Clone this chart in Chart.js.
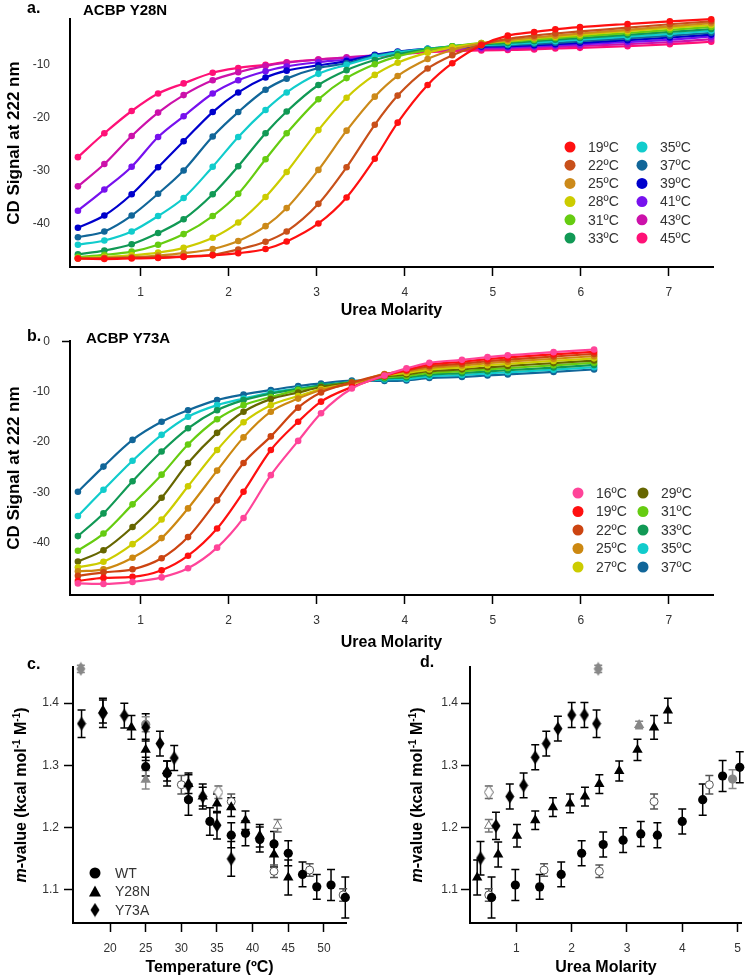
<!DOCTYPE html>
<html>
<head>
<meta charset="utf-8">
<script src="https://cdn.jsdelivr.net/npm/chart.js@4.4.1/dist/chart.umd.min.js"></script>
<style>
  body { margin: 0; background: #fff; width: 750px; height: 980px; position: relative; overflow: hidden; }
  canvas { position: absolute; }
</style>
</head>
<body>
<canvas id="chart-a" width="750" height="322" style="left:0;top:0"></canvas>
<canvas id="chart-b" width="750" height="330" style="left:0;top:322px"></canvas>
<canvas id="chart-c" width="375" height="328" style="left:0;top:652px"></canvas>
<canvas id="chart-d" width="375" height="328" style="left:375px;top:652px"></canvas>
<script>
const FONT = "'Liberation Sans', Arial, sans-serif";

// ---- a. ACBP Y28N : CD signal vs urea, one curve per temperature
const ureaA = [0.29, 0.59, 0.90, 1.20, 1.49, 1.82, 2.11, 2.42, 2.66, 3.02, 3.34, 3.66, 3.92, 4.26, 4.54, 4.87, 5.17, 5.47, 5.71, 5.99, 6.53, 7.01, 7.48];
const tempsA = ['19ºC', '22ºC', '25ºC', '28ºC', '31ºC', '33ºC', '35ºC', '37ºC', '39ºC', '41ºC', '43ºC', '45ºC'];
const colorsA = ['#ff1010', '#c8501a', '#cc8a1a', '#cccc00', '#66cc11', '#119955', '#11cccc', '#116699', '#0000cc', '#7711ee', '#cc11aa', '#ff1177'];
const cdA19 = [-46.6, -46.7, -46.6, -46.5, -46.3, -46.0, -45.6, -44.8, -43.4, -40.0, -35.1, -27.8, -21.0, -13.9, -9.8, -6.4, -4.6, -3.9, -3.4, -3.0, -2.4, -1.9, -1.5];
const cdA22 = [-46.6, -46.5, -46.45, -46.35, -46.2, -45.9, -44.9, -43.45, -41.5, -36.3, -29.4, -21.4, -15.9, -10.8, -8.3, -6.3, -5.2, -4.6, -4.2, -3.8, -3.1, -2.45, -1.9];
const cdA25 = [-46.6, -46.5, -46.35, -46.05, -45.6, -44.8, -43.3, -40.5, -37.1, -29.9, -22.5, -16.1, -12.2, -9.0, -7.3, -6.1, -5.45, -4.95, -4.6, -4.2, -3.5, -2.85, -2.25];
const cdA28 = [-46.5, -46.3, -46.0, -45.5, -44.6, -42.7, -39.8, -35.0, -30.3, -22.4, -16.3, -12.0, -9.7, -7.8, -6.8, -6.0, -5.6, -5.1, -4.8, -4.45, -3.75, -3.15, -2.6];
const cdA31 = [-46.3, -45.9, -45.3, -44.0, -42.0, -38.6, -34.4, -27.9, -23.0, -16.6, -12.6, -10.0, -8.5, -7.3, -6.6, -6.0, -5.75, -5.35, -5.05, -4.75, -4.1, -3.5, -2.95];
const cdA33 = [-45.8, -45.1, -43.9, -41.8, -39.2, -34.5, -29.2, -23.0, -18.9, -13.9, -11.1, -9.2, -8.1, -7.2, -6.6, -6.2, -6.0, -5.65, -5.35, -5.05, -4.45, -3.9, -3.35];
const cdA35 = [-44.0, -43.2, -41.5, -38.6, -35.2, -29.3, -23.7, -18.6, -15.3, -11.8, -10.1, -8.6, -7.8, -7.1, -6.6, -6.35, -6.2, -5.9, -5.65, -5.35, -4.8, -4.25, -3.7];
const cdA37 = [-42.6, -41.5, -38.5, -34.4, -30.0, -23.6, -19.0, -14.8, -12.7, -10.7, -9.8, -8.4, -7.7, -7.1, -6.65, -6.5, -6.4, -6.15, -5.95, -5.65, -5.1, -4.6, -4.05];
const cdA39 = [-40.8, -38.5, -34.5, -29.4, -24.5, -19.0, -15.3, -12.5, -11.2, -10.2, -9.4, -8.2, -7.6, -7.1, -6.75, -6.65, -6.6, -6.4, -6.2, -5.95, -5.45, -4.95, -4.4];
const cdA41 = [-37.6, -33.6, -29.3, -23.7, -19.8, -15.5, -13.0, -11.3, -10.4, -9.6, -9.1, -8.3, -7.8, -7.3, -6.95, -6.85, -6.8, -6.6, -6.45, -6.25, -5.8, -5.35, -4.75];
const cdA43 = [-33.0, -28.8, -23.5, -19.1, -15.8, -13.0, -11.5, -10.3, -9.7, -9.1, -8.7, -8.3, -7.9, -7.5, -7.2, -7.1, -7.05, -6.85, -6.7, -6.55, -6.2, -5.8, -5.25];
const cdA45 = [-27.5, -23.0, -18.8, -15.5, -13.6, -11.6, -10.7, -10.1, -9.6, -9.1, -8.8, -8.5, -8.1, -7.7, -7.5, -7.4, -7.3, -7.2, -7.0, -6.9, -6.6, -6.2, -5.75];
const ticksA_x = [1, 2, 3, 4, 5, 6, 7];
const ticksA_y = [-40, -30, -20, -10];

// ---- b. ACBP Y73A
const ureaB = [0.29, 0.58, 0.91, 1.24, 1.54, 1.87, 2.17, 2.48, 2.79, 3.05, 3.40, 3.77, 4.02, 4.28, 4.65, 4.94, 5.17, 5.69, 6.15];
const tempsB = ['16ºC', '19ºC', '22ºC', '25ºC', '27ºC', '29ºC', '31ºC', '33ºC', '35ºC', '37ºC'];
const colorsB = ['#ff4499', '#ff1010', '#cc4411', '#cc8811', '#cccc00', '#666600', '#66cc11', '#119955', '#11cccc', '#116699'];
const cdB16 = [-48.1, -48.2, -47.8, -46.9, -45.1, -41.0, -35.1, -26.6, -19.8, -14.3, -9.4, -6.8, -5.4, -4.3, -3.7, -3.16, -2.8, -2.17, -1.65];
const cdB19 = [-47.6, -47.0, -46.8, -45.5, -42.6, -37.2, -29.9, -21.6, -16.0, -12.0, -9.1, -6.9, -5.7, -4.63, -4.08, -3.56, -3.22, -2.61, -2.09];
const cdB22 = [-46.6, -45.9, -45.3, -43.1, -38.9, -31.6, -24.2, -18.9, -13.2, -10.2, -8.2, -6.6, -5.8, -4.97, -4.46, -3.97, -3.64, -3.04, -2.53];
const cdB25 = [-45.7, -45.3, -43.0, -39.1, -33.2, -25.7, -19.1, -14.0, -11.4, -9.7, -8.4, -6.5, -6.0, -5.3, -4.83, -4.37, -4.07, -3.48, -2.97];
const cdB27 = [-44.9, -43.8, -40.3, -35.4, -28.8, -21.6, -16.1, -12.7, -10.9, -9.5, -8.4, -6.8, -6.3, -5.63, -5.21, -4.78, -4.49, -3.92, -3.41];
const cdB29 = [-43.75, -41.5, -36.9, -31.1, -24.2, -18.2, -14.0, -11.5, -10.2, -9.1, -8.2, -7.0, -6.6, -5.97, -5.59, -5.18, -4.91, -4.35, -3.84];
const cdB31 = [-41.6, -38.2, -32.4, -26.5, -20.5, -15.5, -12.7, -11.1, -9.7, -9.1, -8.1, -7.2, -6.9, -6.3, -5.97, -5.58, -5.33, -4.79, -4.28];
const cdB33 = [-38.7, -34.2, -27.8, -21.9, -17.3, -13.7, -11.7, -10.4, -9.5, -8.75, -8.1, -7.4, -7.2, -6.63, -6.34, -5.99, -5.75, -5.23, -4.72];
const cdB35 = [-34.7, -29.5, -23.75, -18.6, -15.0, -12.7, -11.4, -10.2, -9.4, -8.75, -8.1, -7.6, -7.5, -6.97, -6.72, -6.39, -6.18, -5.66, -5.16];
const cdB37 = [-29.9, -24.9, -19.6, -16.0, -13.7, -11.7, -10.6, -9.7, -8.9, -8.4, -7.8, -7.9, -7.8, -7.3, -7.1, -6.8, -6.6, -6.1, -5.6];
const ticksB_y = [-40, -30, -20, -10, 0];

// ---- c. m-value vs temperature
const mutants = ['WT', 'Y28N', 'Y73A'];
const tempWT = [25, 28, 31, 34, 37, 39, 41, 43, 45, 47, 49, 51, 53];
const mTempWT = [1.298, 1.287, 1.245, 1.210, 1.188, 1.191, 1.181, 1.174, 1.159, 1.125, 1.105, 1.108, 1.088];
const errTempWT = [0.015, 0.02, 0.025, 0.022, 0.02, 0.02, 0.02, 0.02, 0.02, 0.02, 0.02, 0.025, 0.033];
const tempY28N = [19, 23, 25, 28, 31, 33, 35, 37, 39, 41, 43, 45];
const mTempY28N = [1.388, 1.361, 1.325, 1.291, 1.270, 1.250, 1.239, 1.233, 1.212, 1.187, 1.157, 1.120];
const errTempY28N = [0.02, 0.019, 0.017, 0.016, 0.015, 0.015, 0.015, 0.015, 0.015, 0.018, 0.02, 0.028];
const tempY73A = [16, 19, 22, 25, 27, 29, 31, 33, 35, 37];
const mTempY73A = [1.367, 1.383, 1.380, 1.361, 1.335, 1.312, 1.268, 1.250, 1.204, 1.150];
const errTempY73A = [0.022, 0.022, 0.02, 0.022, 0.02, 0.02, 0.02, 0.02, 0.022, 0.028];
const tempOpen = [30, 37, 43, 48, 52.7];
const mTempOpen = [1.269, 1.242, 1.130, 1.132, 1.092];
const errTempOpen = [0.015, 0.012, 0.01, 0.01, 0.01];
const tempOpenTri = [43.5], mTempOpenTri = [1.203], errTempOpenTri = [0.01];
const tempOpenDia = [35.2], mTempOpenDia = [1.257], errTempOpenDia = [0.01];
const tempGrayDia = [15.9], mTempGrayDia = [1.455], errTempGrayDia = [0.006];
const tempGrayCirc = [25], mTempGrayCirc = [1.366], errTempGrayCirc = [0.012];
const tempGrayTri = [25], mTempGrayTri = [1.277], errTempGrayTri = [0.015];
const ticksC_x = [20, 25, 30, 35, 40, 45, 50];
const ticksM_y = [1.1, 1.2, 1.3, 1.4];

// ---- d. m-value vs urea midpoint
const ureaWT = [0.55, 0.98, 1.42, 1.81, 2.18, 2.57, 2.93, 3.25, 3.55, 4.00, 4.37, 4.73, 5.04];
const mUreaWT = [1.088, 1.108, 1.105, 1.125, 1.159, 1.173, 1.180, 1.190, 1.188, 1.210, 1.245, 1.283, 1.297];
const errUreaWT = [0.033, 0.025, 0.02, 0.02, 0.02, 0.02, 0.02, 0.02, 0.02, 0.02, 0.025, 0.025, 0.025];
const ureaY28N = [0.29, 0.67, 1.01, 1.34, 1.66, 1.97, 2.24, 2.50, 2.86, 3.19, 3.49, 3.74];
const mUreaY28N = [1.120, 1.157, 1.187, 1.212, 1.233, 1.239, 1.250, 1.270, 1.291, 1.325, 1.361, 1.388];
const errUreaY28N = [0.028, 0.02, 0.018, 0.015, 0.015, 0.015, 0.015, 0.015, 0.016, 0.017, 0.019, 0.02];
const ureaY73A = [0.35, 0.63, 0.88, 1.13, 1.34, 1.54, 1.75, 2.00, 2.23, 2.45];
const mUreaY73A = [1.151, 1.203, 1.250, 1.268, 1.313, 1.335, 1.359, 1.381, 1.381, 1.367];
const errUreaY73A = [0.027, 0.022, 0.02, 0.02, 0.02, 0.02, 0.02, 0.02, 0.02, 0.022];
const ureaOpen = [0.50, 1.50, 2.50, 3.49, 4.49];
const mUreaOpen = [1.092, 1.132, 1.130, 1.242, 1.269];
const errUreaOpen = [0.01, 0.01, 0.01, 0.012, 0.015];
const ureaOpenTri = [0.50], mUreaOpenTri = [1.203], errUreaOpenTri = [0.01];
const ureaOpenDia = [0.50], mUreaOpenDia = [1.257], errUreaOpenDia = [0.01];
const ureaGrayDia = [2.48], mUreaGrayDia = [1.455], errUreaGrayDia = [0.006];
const ureaGrayTri = [3.22], mUreaGrayTri = [1.365], errUreaGrayTri = [0.006];
const ureaGrayCirc = [4.91], mUreaGrayCirc = [1.278], errUreaGrayCirc = [0.015];
const ticksD_x = [1, 2, 3, 4, 5];

// narrow diamond marker (Igor style)
function diamond(color, filled) {
  const c = document.createElement('canvas');
  c.width = 10; c.height = 15;
  const g = c.getContext('2d');
  g.beginPath();
  g.moveTo(5, 0.5); g.lineTo(9.5, 7.5); g.lineTo(5, 14.5); g.lineTo(0.5, 7.5); g.closePath();
  g.fillStyle = filled ? color : '#fff';
  g.fill();
  if (!filled) { g.strokeStyle = color; g.lineWidth = 1; g.stroke(); }
  return c;
}
const diaBlack = diamond('#000', true);
const diaGray = diamond('#888', true);
const diaOpen = diamond('#666', false);

function pts(xs, ys) { return ys.map((v, i) => ({ x: xs[i], y: v })); }

// texts, legend, rotated titles drawn on top
function decor(cfg) {
  return {
    id: 'decor',
    afterDraw(chart) {
      const ctx = chart.ctx;
      (cfg.texts || []).forEach(t => {
        ctx.save();
        ctx.font = t.font;
        ctx.fillStyle = '#000';
        ctx.textBaseline = 'middle';
        ctx.fillText(t.text, t.x, t.y);
        ctx.restore();
      });
      if (cfg.legend) {
        const L = cfg.legend;
        L.items.forEach((it, i) => {
          const col = Math.floor(i / L.perCol), row = i % L.perCol;
          const mx = L.xs[col], my = L.y0 + row * L.dy;
          ctx.save();
          ctx.fillStyle = it.color;
          if (it.shape === 'triangle') {
            ctx.beginPath();
            ctx.moveTo(mx, my - 6); ctx.lineTo(mx + 6, my + 5); ctx.lineTo(mx - 6, my + 5); ctx.closePath(); ctx.fill();
          } else if (it.shape === 'diamond') {
            ctx.drawImage(diaBlack, mx - 5, my - 7.5);
          } else {
            ctx.beginPath(); ctx.arc(mx, my, L.r, 0, Math.PI * 2); ctx.fill();
          }
          ctx.font = L.font;
          ctx.fillStyle = '#333';
          ctx.textBaseline = 'middle';
          ctx.fillText(it.label, mx + L.dx, my + 1);
          ctx.restore();
        });
      }
      if (cfg.yTitle) {
        const T = cfg.yTitle;
        ctx.save();
        ctx.translate(T.x, T.y);
        ctx.rotate(-Math.PI / 2);
        ctx.fillStyle = '#000';
        ctx.textBaseline = 'middle';
        let w = 0;
        T.parts.forEach(p => { ctx.font = p.font; w += ctx.measureText(p.t).width; });
        let x = -w / 2;
        T.parts.forEach(p => {
          ctx.font = p.font;
          ctx.fillText(p.t, x, p.sup ? -5 : 0);
          x += ctx.measureText(p.t).width;
        });
        ctx.restore();
      }
    }
  };
}

const errorBars = {
  id: 'errorBars',
  beforeDatasetsDraw(chart) {
    const { ctx, scales: { x, y } } = chart;
    chart.data.datasets.forEach(ds => {
      if (!ds.errors) return;
      ctx.save();
      ctx.strokeStyle = ds.errColor;
      ctx.lineWidth = 1.5;
      ds.data.forEach((p, i) => {
        const px = x.getPixelForValue(p.x);
        const y1 = y.getPixelForValue(p.y - ds.errors[i]);
        const y2 = y.getPixelForValue(p.y + ds.errors[i]);
        ctx.beginPath();
        ctx.moveTo(px, y1); ctx.lineTo(px, y2);
        ctx.moveTo(px - 4, y1); ctx.lineTo(px + 4, y1);
        ctx.moveTo(px - 4, y2); ctx.lineTo(px + 4, y2);
        ctx.stroke();
      });
      ctx.restore();
    });
  }
};

function axis(o) {
  return {
    type: 'linear',
    min: o.min, max: o.max,
    afterBuildTicks: s => { s.ticks = o.ticks.map(v => ({ value: v })); },
    afterFit: s => { if (o.width) s.width = o.width; if (o.height) s.height = o.height; },
    border: { color: '#000', width: 2 },
    grid: { drawOnChartArea: false, tickLength: o.tickLength, tickWidth: 1.5, tickColor: o.tickColor || '#000' },
    ticks: { padding: o.padding, color: '#333', font: { family: FONT, size: 12 }, callback: v => String(v) },
    title: o.title ? { display: true, text: o.title, color: '#000', font: { family: FONT, size: o.titleSize, weight: 'bold' }, padding: o.titlePad } : { display: false }
  };
}

function curveChart(id, urea, series, labels, colors, opt) {
  return new Chart(document.getElementById(id), {
    type: 'scatter',
    data: {
      datasets: series.map((vals, i) => ({
        label: labels[i],
        data: pts(urea, vals),
        showLine: true,
        borderColor: colors[i],
        backgroundColor: colors[i],
        borderWidth: 2.2,
        pointRadius: 3.3,
        pointBorderWidth: 0,
        tension: 0.4,
        cubicInterpolationMode: 'monotone',
        clip: 8
      }))
    },
    options: {
      responsive: false,
      animation: false,
      layout: { padding: { left: 0, top: opt.top, right: 37, bottom: 0 } },
      plugins: { legend: { display: false }, tooltip: { enabled: false } },
      scales: {
        x: axis({ min: 0.2, max: 7.5, ticks: ticksA_x, height: opt.xh, tickLength: 9, padding: 9, title: 'Urea Molarity', titleSize: 16, titlePad: { top: 0, bottom: opt.titlePad } }),
        y: axis({ min: opt.ymin, max: opt.ymax, ticks: opt.yticks, width: 70, tickLength: 8, padding: 12,
          tickColor: c => (c.tick && c.tick.value === 0 ? '#000' : 'rgba(0,0,0,0)'),
          title: 'CD Signal at 222 nm', titleSize: 17, titlePad: { top: 4, bottom: 0 } })
      }
    },
    plugins: [decor({
      texts: opt.texts,
      legend: { items: labels.map((l, i) => ({ label: l, color: colors[i], shape: 'circle' })), perCol: opt.perCol, xs: opt.legX, y0: opt.legY, dy: opt.legDy, r: 5.5, dx: 18, font: '14px ' + FONT }
    })]
  });
}

curveChart('chart-a', ureaA,
  [cdA19, cdA22, cdA25, cdA28, cdA31, cdA33, cdA35, cdA37, cdA39, cdA41, cdA43, cdA45],
  tempsA, colorsA, {
    top: 10, xh: 55, titlePad: 2, ymin: -48.2, ymax: -1.5, yticks: ticksA_y,
    perCol: 6, legX: [570, 642], legY: 147, legDy: 18.2,
    texts: [{ text: 'a.', x: 27, y: 9, font: 'bold 16px ' + FONT }, { text: 'ACBP Y28N', x: 83, y: 11, font: 'bold 15px ' + FONT }]
  });

curveChart('chart-b', ureaB,
  [cdB16, cdB19, cdB22, cdB25, cdB27, cdB29, cdB31, cdB33, cdB35, cdB37],
  tempsB, colorsB, {
    top: 17, xh: 57, titlePad: 0, ymin: -50.4, ymax: 0, yticks: ticksB_y,
    perCol: 5, legX: [578, 643], legY: 171, legDy: 18.5,
    texts: [{ text: 'b.', x: 27, y: 15, font: 'bold 16px ' + FONT }, { text: 'ACBP Y73A', x: 86, y: 17, font: 'bold 15px ' + FONT }]
  });

function mChart(id, xo, sets, o) {
  const blk = (label, xs, ys, es, style, r) => ({ label, data: pts(xs, ys), errors: es, errColor: '#000', pointStyle: style, pointRadius: r, backgroundColor: '#000', borderColor: '#000', borderWidth: 0, clip: false });
  const grey = (xs, ys, es, style, r) => ({ data: pts(xs, ys), errors: es, errColor: '#888', pointStyle: style, pointRadius: r, backgroundColor: '#888', borderColor: '#888', borderWidth: 0, clip: false });
  const open = (xs, ys, es, style, r, col) => ({ data: pts(xs, ys), errors: es, errColor: col, pointStyle: style, pointRadius: r, backgroundColor: '#fff', borderColor: col, borderWidth: 1, clip: false });
  const ds = [
    blk(mutants[0], sets.wt[0], sets.wt[1], sets.wt[2], 'circle', 4.6),
    blk(mutants[1], sets.y28[0], sets.y28[1], sets.y28[2], 'triangle', 6),
    blk(mutants[2], sets.y73[0], sets.y73[1], sets.y73[2], diaBlack, 5),
    open(sets.openC[0], sets.openC[1], sets.openC[2], 'circle', 4, '#555'),
    open(sets.openT[0], sets.openT[1], sets.openT[2], 'triangle', 5, '#777'),
    open(sets.openD[0], sets.openD[1], sets.openD[2], diaOpen, 5, '#666'),
    grey(sets.grayC[0], sets.grayC[1], sets.grayC[2], 'circle', 4.6),
    grey(sets.grayT[0], sets.grayT[1], sets.grayT[2], 'triangle', 6),
    grey(sets.grayD[0], sets.grayD[1], sets.grayD[2], diaGray, 5)
  ];
  const mFont = 'bold 16px ' + FONT, supFont = 'bold 10px ' + FONT;
  return new Chart(document.getElementById(id), {
    type: 'scatter',
    data: { datasets: ds },
    options: {
      responsive: false,
      animation: false,
      layout: { padding: { left: 0, top: 15, right: o.right, bottom: 0 } },
      plugins: { legend: { display: false }, tooltip: { enabled: false } },
      scales: {
        x: axis({ min: xo.min, max: xo.max, ticks: xo.ticks, height: 57, tickLength: 9, padding: 9, title: xo.title, titleSize: 16, titlePad: { top: 0, bottom: 3 } }),
        y: axis({ min: 1.047, max: 1.458, ticks: ticksM_y, width: o.yw, tickLength: 9, padding: o.ypad })
      }
    },
    plugins: [errorBars, decor({
      texts: o.texts,
      legend: o.legend ? { items: [{ label: mutants[0], color: '#000', shape: 'circle' }, { label: mutants[1], color: '#000', shape: 'triangle' }, { label: mutants[2], color: '#000', shape: 'diamond' }], perCol: 3, xs: [95], y0: 221, dy: 18.5, r: 5.5, dx: 20, font: '14px ' + FONT } : null,
      yTitle: { x: o.titleX, y: 143, parts: [
        { t: 'm', font: 'italic ' + mFont }, { t: '-value (kcal mol', font: mFont }, { t: '-1', font: supFont, sup: true },
        { t: ' M', font: mFont }, { t: '-1', font: supFont, sup: true }, { t: ')', font: mFont }] }
    })]
  });
}

mChart('chart-c', { min: 14.8, max: 53.1, ticks: ticksC_x, title: 'Temperature (ºC)' }, {
  wt: [tempWT, mTempWT, errTempWT], y28: [tempY28N, mTempY28N, errTempY28N], y73: [tempY73A, mTempY73A, errTempY73A],
  openC: [tempOpen, mTempOpen, errTempOpen], openT: [tempOpenTri, mTempOpenTri, errTempOpenTri], openD: [tempOpenDia, mTempOpenDia, errTempOpenDia],
  grayC: [tempGrayCirc, mTempGrayCirc, errTempGrayCirc], grayT: [tempGrayTri, mTempGrayTri, errTempGrayTri], grayD: [tempGrayDia, mTempGrayDia, errTempGrayDia]
}, { right: 29, yw: 73, ypad: 5, titleX: 22, legend: true, texts: [{ text: 'c.', x: 27, y: 13, font: 'bold 16px ' + FONT }] });

mChart('chart-d', { min: 0.16, max: 5.08, ticks: ticksD_x, title: 'Urea Molarity' }, {
  wt: [ureaWT, mUreaWT, errUreaWT], y28: [ureaY28N, mUreaY28N, errUreaY28N], y73: [ureaY73A, mUreaY73A, errUreaY73A],
  openC: [ureaOpen, mUreaOpen, errUreaOpen], openT: [ureaOpenTri, mUreaOpenTri, errUreaOpenTri], openD: [ureaOpenDia, mUreaOpenDia, errUreaOpenDia],
  grayC: [ureaGrayCirc, mUreaGrayCirc, errUreaGrayCirc], grayT: [ureaGrayTri, mUreaGrayTri, errUreaGrayTri], grayD: [ureaGrayDia, mUreaGrayDia, errUreaGrayDia]
}, { right: 8, yw: 95, ypad: 3, titleX: 43, legend: false, texts: [{ text: 'd.', x: 45, y: 11, font: 'bold 16px ' + FONT }] });
</script>
</body>
</html>
